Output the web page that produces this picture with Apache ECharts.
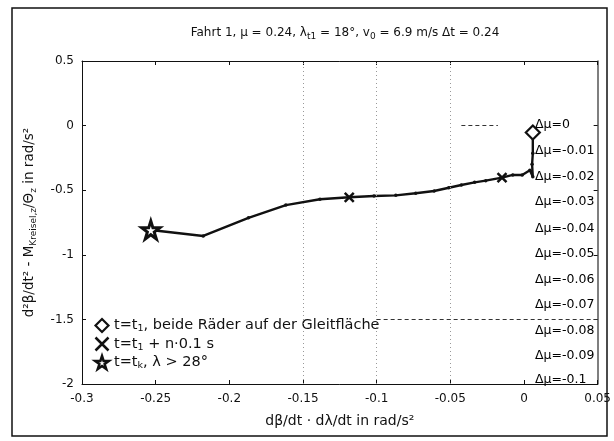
<!DOCTYPE html>
<html><head><meta charset="utf-8">
<script src="https://cdn.jsdelivr.net/npm/echarts@6/dist/echarts.min.js"></script>
<style>html,body{margin:0;padding:0;background:#fff}#c{width:614px;height:441px}</style>
</head><body><div id="c"></div>
<script>
// trajectory from t1 (diamond) to tk (star)
const pathX = [0.006, 0.006, 0.0055, 0.006, 0.004, -0.0012, -0.0076, -0.0149, -0.026, -0.0335, -0.0425, -0.051, -0.061, -0.0735, -0.087, -0.1018, -0.1186, -0.1385, -0.1616, -0.187, -0.2177, -0.2533];
const pathY = [-0.053, -0.214, -0.30, -0.396, -0.345, -0.382, -0.382, -0.403, -0.426, -0.439, -0.460, -0.481, -0.506, -0.524, -0.540, -0.545, -0.555, -0.570, -0.615, -0.714, -0.854, -0.808];
const diamondIdx = [0];
const crossIdx = [7, 16];
const starIdx = [21];
const muLabels = ['Δμ=0', 'Δμ=-0.01', 'Δμ=-0.02', 'Δμ=-0.03', 'Δμ=-0.04', 'Δμ=-0.05', 'Δμ=-0.06', 'Δμ=-0.07', 'Δμ=-0.08', 'Δμ=-0.09', 'Δμ=-0.1'];
const muLabelY = [0.005, -0.197, -0.395, -0.59, -0.795, -0.994, -1.19, -1.389, -1.587, -1.783, -1.969];
const muLabelX = 0.0058;
const gridLinesX = [-0.15, -0.1, -0.05];
const dashedLevel = -1.5;
const dashedFrom = -0.1;
const shortDash = [[-0.0425, 0.005], [-0.0177, 0.005]];
const legendNames = ['diamond', 'cross', 'star'];
const legendTexts = {
  diamond: 't=t{sub|1}, beide Räder auf der Gleitfläche',
  cross: 't=t{sub|1} + n·0.1 s',
  star: 't=t{sub|k}, λ > 28°'
};

const FONT = '"DejaVu Sans", Verdana, sans-serif';
const INK = '#111';
const sub = { fontSize: 9, verticalAlign: 'bottom', lineHeight: 17, fontFamily: FONT, color: INK };
const pts = pathX.map((x, i) => [x, pathY[i]]);
const pick = idx => idx.map(i => pts[i]);
const diamondPath = 'path://M0,-1L1,0L0,1L-1,0Z';
const crossPath = 'path://M-1,-1L1,1M1,-1L-1,1';
const starPath = 'path://M0,-1L0.2245,-0.309L0.951,-0.309L0.363,0.118L0.588,0.809L0,0.382L-0.588,0.809L-0.363,0.118L-0.951,-0.309L-0.2245,-0.309Z';

const chart = echarts.init(document.getElementById('c'), null, { renderer: 'canvas' });
const axisCommon = {
  type: 'value',
  axisLine: { show: true, onZero: false, lineStyle: { color: INK, width: 1 } },
  axisTick: { show: true, inside: true, length: 4, lineStyle: { color: INK } },
  splitLine: { show: false }
};
chart.setOption({
  animation: false,
  backgroundColor: '#fff',
  textStyle: { fontFamily: FONT },
  title: {
    text: 'Fahrt 1, μ = 0.24, λ{sub|t1} = 18°, v{sub|0} = 6.9 m/s Δt = 0.24',
    left: 340, textAlign: 'center', top: 19,
    textStyle: { fontSize: 12, fontWeight: 'normal', color: INK, fontFamily: FONT, lineHeight: 17, rich: { sub } }
  },
  graphic: [{
    type: 'rect', shape: { x: 12, y: 8, width: 595, height: 428 },
    style: { fill: 'none', stroke: INK, lineWidth: 1.5 }, silent: true
  }],
  legend: {
    data: [
      { name: 'diamond', icon: diamondPath, itemStyle: { color: '#fff', borderColor: INK, borderWidth: 2.2, opacity: 1 } },
      { name: 'cross', icon: crossPath, itemStyle: { color: 'none', borderColor: INK, borderWidth: 2.5, opacity: 1 } },
      { name: 'star', icon: starPath, itemStyle: { color: '#fff', borderColor: INK, borderWidth: 2.5, opacity: 1 } }
    ],
    orient: 'vertical', left: 88, top: 312,
    itemWidth: 14, itemHeight: 13, itemGap: 1,
    formatter: n => legendTexts[n],
    textStyle: { fontSize: 14.5, color: INK, fontFamily: FONT, lineHeight: 17, rich: { sub: Object.assign({}, sub, { fontSize: 9.5 }) } }
  },
  grid: { left: 82, right: 16, top: 61, bottom: 57, containLabel: false },
  xAxis: [
    Object.assign({}, axisCommon, {
      min: -0.3, max: 0.05, interval: 0.05, position: 'bottom',
      axisLabel: { fontSize: 12, color: INK, margin: 9, fontFamily: FONT },
      name: 'dβ/dt · dλ/dt in rad/s²', nameLocation: 'middle', nameGap: 30,
      nameTextStyle: { fontSize: 14, color: INK, fontFamily: FONT }
    }),
    Object.assign({}, axisCommon, { min: -0.3, max: 0.05, interval: 0.05, position: 'top', axisLabel: { show: false } })
  ],
  yAxis: [
    Object.assign({}, axisCommon, {
      min: -2, max: 0.5, interval: 0.5, position: 'left',
      axisLabel: { fontSize: 12, color: INK, margin: 8, fontFamily: FONT },
      name: 'd²β/dt² - M{sub|Kreisel,z}/Θ{sub|z} in rad/s²', nameLocation: 'middle', nameGap: 44,
      nameTextStyle: { fontSize: 13.5, color: INK, fontFamily: FONT, lineHeight: 17, rich: { sub } }
    }),
    Object.assign({}, axisCommon, { min: -2, max: 0.5, interval: 0.5, position: 'right', axisLabel: { show: false },
      axisLine: { show: true, onZero: false, lineStyle: { color: '#555', width: 1.5 } } })
  ],
  series: [
    {
      type: 'line', name: 'grid', data: [], silent: true,
      markLine: {
        silent: true, symbol: 'none', label: { show: false },
        data: gridLinesX.map(x => ({ xAxis: x, lineStyle: { type: [1, 3], color: '#999', width: 1 } }))
          .concat([
            [{ coord: [dashedFrom, dashedLevel] }, { coord: [0.05, dashedLevel] }],
            [{ coord: shortDash[0] }, { coord: shortDash[1] }]
          ]),
        lineStyle: { type: [4, 3], color: '#333', width: 1 }
      },
      markPoint: {
        silent: true, symbol: 'circle', symbolSize: 1,
        itemStyle: { color: 'rgba(0,0,0,0)' },
        data: muLabels.map((t, i) => ({ coord: [muLabelX, muLabelY[i]], name: t })),
        label: { show: true, position: 'right', distance: 2, formatter: p => p.name, fontSize: 12.5, color: '#000', textBorderWidth: 0, fontFamily: FONT }
      }
    },
    {
      type: 'line', name: 'path', data: pts, symbol: 'circle', symbolSize: 3.5,
      lineStyle: { color: INK, width: 2.4 }, itemStyle: { color: INK }, z: 3
    },
    {
      type: 'scatter', name: 'diamond', data: pick(diamondIdx), symbol: diamondPath, symbolSize: 14,
      itemStyle: { color: '#fff', borderColor: INK, borderWidth: 2.2, opacity: 1 }, z: 5
    },
    {
      type: 'scatter', name: 'cross', data: pick(crossIdx), symbol: crossPath, symbolSize: 9,
      itemStyle: { color: 'none', borderColor: INK, borderWidth: 2.5, opacity: 1 }, z: 5
    },
    {
      type: 'scatter', name: 'star', data: pick(starIdx), symbol: starPath, symbolSize: 18,
      itemStyle: { color: '#fff', borderColor: INK, borderWidth: 3, opacity: 1 }, z: 5
    }
  ]
});
</script></body></html>
